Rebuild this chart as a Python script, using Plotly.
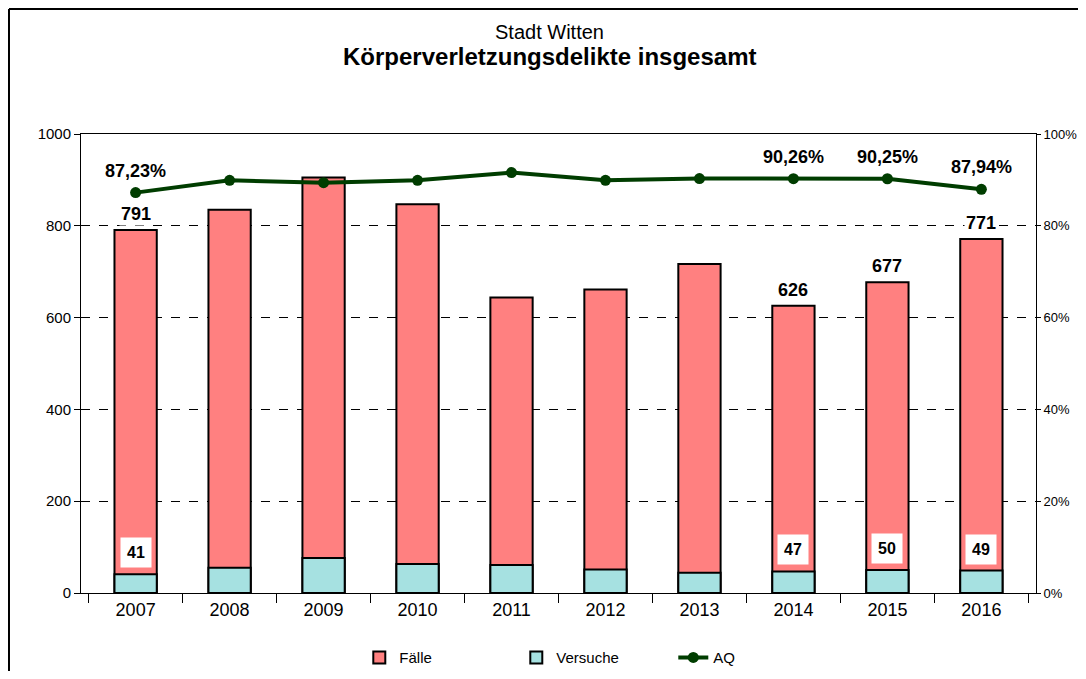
import plotly.graph_objects as go

years = ["2007", "2008", "2009", "2010", "2011", "2012", "2013", "2014", "2015", "2016"]
faelle = [791, 835, 905, 847, 644, 661, 717, 626, 677, 771]
versuche = [41, 55, 76, 63, 61, 51, 44, 47, 50, 49]
aq = [87.23, 89.9, 89.4, 89.9, 91.6, 89.9, 90.3, 90.26, 90.25, 87.94]
labeled = ["2007", "2014", "2015", "2016"]

FONT = "Liberation Sans, Arial, sans-serif"

fig = go.Figure()
fig.add_trace(go.Bar(
    x=years, y=faelle, name="Fälle", width=0.45,
    marker=dict(color="#FF8080", line=dict(color="black", width=2)),
))
fig.add_trace(go.Bar(
    x=years, y=versuche, name="Versuche", width=0.45,
    marker=dict(color="#A6E1E1", line=dict(color="black", width=2)),
))
fig.add_trace(go.Scatter(
    x=years, y=aq, name="AQ", yaxis="y2", mode="lines+markers",
    line=dict(color="#003D00", width=4),
    marker=dict(color="#003D00", size=11),
))

ann = []
for i, (yr, f, v, a) in enumerate(zip(years, faelle, versuche, aq)):
    if yr in labeled:
        ann.append(dict(x=i, y=f, xref="x", yref="y", text=f"<b>{f}</b>",
                        showarrow=False, yanchor="bottom", yshift=4,
                        bgcolor="white", borderpad=1,
                        font=dict(family=FONT, size=18, color="black")))
        ann.append(dict(x=i, y=v, xref="x", yref="y", text=f"<b>{v}</b>",
                        showarrow=False, yanchor="bottom", yshift=6,
                        bgcolor="white", borderpad=6,
                        font=dict(family=FONT, size=16, color="black")))
        ann.append(dict(x=i, y=a, xref="x", yref="y2",
                        text="<b>" + f"{a:.2f}".replace(".", ",") + "%</b>",
                        showarrow=False, yanchor="bottom", yshift=10,
                        bgcolor="white", borderpad=1,
                        font=dict(family=FONT, size=18, color="black")))

ann.append(dict(x=0.491, y=1.222, xref="paper", yref="paper", text="Stadt Witten",
                showarrow=False, yanchor="middle",
                font=dict(family=FONT, size=20, color="black")))
ann.append(dict(x=0.491, y=1.168, xref="paper", yref="paper",
                text="<b>Körperverletzungsdelikte insgesamt</b>", yanchor="middle",
                showarrow=False, font=dict(family=FONT, size=24, color="black")))

fig.update_layout(
    width=1070, height=663,
    margin=dict(l=73, r=42, t=126, b=78, autoexpand=False),
    paper_bgcolor="white", plot_bgcolor="white",
    barmode="overlay",
    showlegend=True,
    legend=dict(orientation="h", x=0.538, xanchor="center", y=-0.105, yanchor="top",
                font=dict(family=FONT, size=15, color="black"),
                entrywidth=112, bgcolor="rgba(0,0,0,0)"),
    annotations=ann,
    font=dict(family=FONT, color="black"),
    xaxis=dict(type="category", showline=True, linecolor="black", linewidth=1,
               mirror=True, ticks="outside", tickson="boundaries", ticklen=9,
               tickcolor="black", tickfont=dict(size=18, family=FONT, color="black"),
               showgrid=False, tickangle=0, automargin=False),
    yaxis=dict(range=[0, 1000], dtick=200, showline=True, linecolor="black",
               linewidth=1, ticks="outside", ticklen=6, tickcolor="black",
               showgrid=True, gridcolor="black", griddash="dash", gridwidth=1,
               zeroline=False, automargin=False,
               tickfont=dict(size=15, family=FONT, color="black")),
    yaxis2=dict(range=[0, 100], dtick=20, overlaying="y", side="right",
                showline=True, linecolor="black", linewidth=1, ticks="outside",
                ticklen=4, tickcolor="black", ticksuffix="%", showgrid=False,
                zeroline=False, automargin=False,
                tickfont=dict(size=13, family=FONT, color="black")),
    shapes=[
        dict(type="line", xref="paper", yref="paper", x0=-0.0754, x1=1.05,
             y0=1.2723, y1=1.2723, line=dict(color="black", width=2)),
        dict(type="line", xref="paper", yref="paper", x0=-0.0754, x1=-0.0754,
             y0=1.2723, y1=-0.2, line=dict(color="black", width=2)),
    ],
)

fig.write_html("out.html")
